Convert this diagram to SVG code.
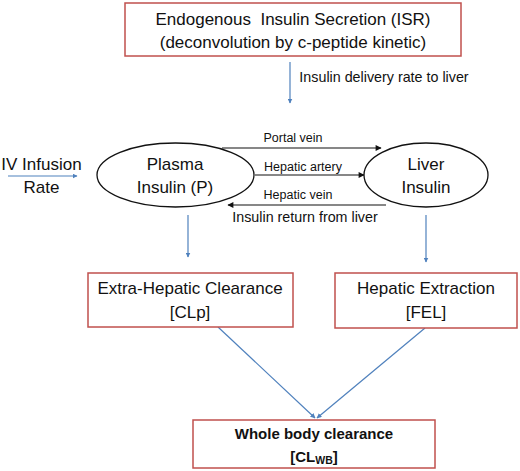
<svg xmlns="http://www.w3.org/2000/svg" width="520" height="471" viewBox="0 0 520 471">
<defs>
<style>
text{font-family:"Liberation Sans",Arial,sans-serif;fill:#111;text-anchor:middle}
.box{fill:#fff;stroke:#C0504D;stroke-width:1.5}
.ell{fill:#fff;stroke:#111;stroke-width:1.3}
.big{font-size:17px}
.mid{font-size:14.3px}
.sm{font-size:12.5px}
.bold{font-size:15px;font-weight:bold}
.blue{stroke:#4F81BD;stroke-width:1.2;fill:none;marker-end:url(#ab)}
.blk{stroke:#111;stroke-width:1.2;fill:none;marker-end:url(#ak)}
</style>
<marker id="ab" viewBox="0 0 10 10" refX="9" refY="5" markerWidth="5" markerHeight="5" orient="auto" markerUnits="userSpaceOnUse"><path d="M0,0 L10,5 L0,10 z" fill="#4F81BD"/></marker>
<marker id="ak" viewBox="0 0 10 10" refX="9" refY="5" markerWidth="7" markerHeight="6" orient="auto" markerUnits="userSpaceOnUse"><path d="M0,0 L10,5 L0,10 z" fill="#111"/></marker>
</defs>
<rect width="520" height="471" fill="#fff"/>
<g id="connectors">
<line class="blue" x1="290" y1="62" x2="290" y2="103"/>
<line class="blue" x1="8" y1="176" x2="77" y2="176"/>
<line class="blk" x1="222" y1="148" x2="381" y2="148"/>
<line class="blk" x1="255" y1="175" x2="364" y2="175"/>
<line class="blk" x1="386" y1="205" x2="228" y2="205"/>
<line class="blue" x1="188" y1="215" x2="188" y2="257"/>
<line class="blue" x1="426" y1="215" x2="426" y2="262"/>
<line class="blue" x1="218" y1="327" x2="315" y2="418"/>
<line class="blue" x1="425" y1="328" x2="317" y2="418"/>
<text class="mid" x="384" y="82">Insulin delivery rate to liver</text>
<text class="sm" x="293" y="142">Portal vein</text>
<text class="sm" x="303" y="171">Hepatic artery</text>
<text class="sm" x="298" y="199">Hepatic vein</text>
<text class="mid" x="305" y="222">Insulin return from liver</text>
</g>
<g id="isr">
<rect class="box" x="125" y="3" width="336" height="53"/>
<text class="big" x="293" y="25">Endogenous&#160; Insulin Secretion (ISR)</text>
<text class="big" x="293" y="48">(deconvolution by c-peptide kinetic)</text>
</g>
<g id="iv">
<text class="big" x="41.5" y="170">IV Infusion</text>
<text class="big" x="41.5" y="193">Rate</text>
</g>
<g id="plasma">
<ellipse class="ell" cx="175.5" cy="175" rx="78.5" ry="32"/>
<text class="big" x="175" y="170">Plasma</text>
<text class="big" x="175" y="193">Insulin (P)</text>
</g>
<g id="liver">
<ellipse class="ell" cx="426" cy="175" rx="62" ry="32"/>
<text class="big" x="426" y="170">Liver</text>
<text class="big" x="426" y="193">Insulin</text>
</g>
<g id="clp">
<rect class="box" x="88" y="273" width="205" height="54"/>
<text class="big" x="190" y="294">Extra-Hepatic Clearance</text>
<text class="big" x="190" y="318">[CLp]</text>
</g>
<g id="fel">
<rect class="box" x="335" y="273" width="182" height="55"/>
<text class="big" x="426" y="294">Hepatic Extraction</text>
<text class="big" x="426" y="318">[FEL]</text>
</g>
<g id="clwb">
<rect class="box" x="193" y="420" width="242" height="48"/>
<text class="bold" x="314" y="439">Whole body clearance</text>
<text class="bold" x="314" y="462">[CL<tspan font-size="10.5px" dy="2">WB</tspan><tspan dy="-2">]</tspan></text>
</g>
</svg>
